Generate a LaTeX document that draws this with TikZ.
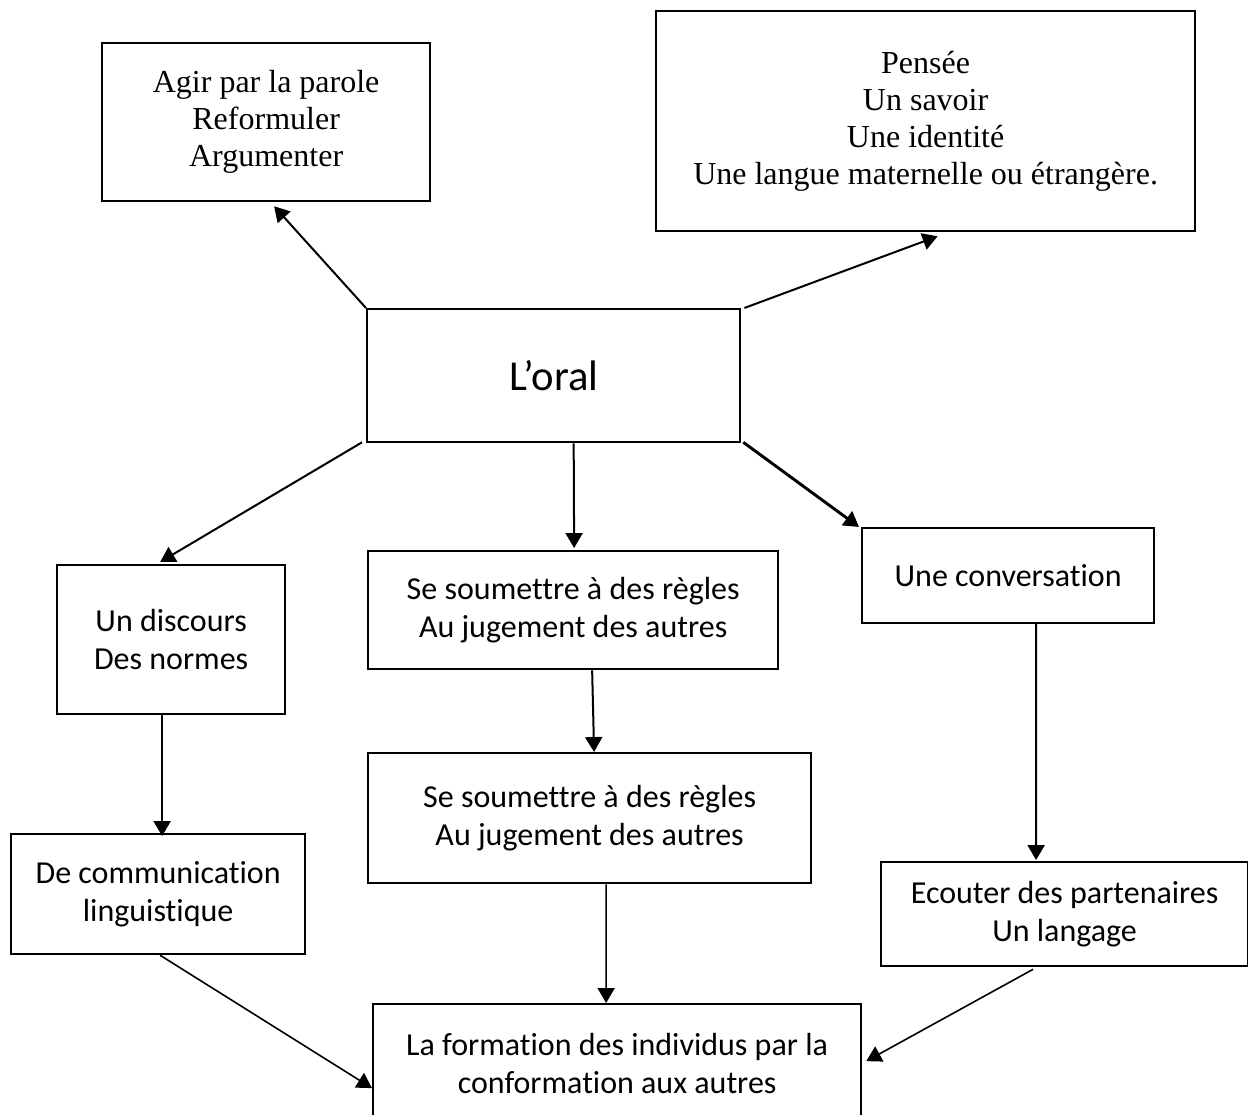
\documentclass[tikz,border=0pt]{standalone}
\usepackage{fontspec}
\setmainfont{Liberation Serif}
\newfontfamily\calfont[Ligatures={NoCommon}]{Carlito}
\usetikzlibrary{arrows.meta}
\begin{document}
\begin{tikzpicture}[x=0.375pt,y=-0.375pt,
  box/.style={draw, line width=0.85pt, align=center, inner sep=0pt, anchor=north west},
  tnr/.style={font=\fontsize{12}{13.9}\selectfont},
  cal/.style={font=\calfont\fontsize{12}{14.3}\selectfont},
  arr/.style={line width=0.75pt, -{Triangle[length=5.6pt,width=6.4pt]}},
]
\useasboundingbox (0,0) rectangle (1248,1115);
\node[box,tnr,minimum width=123pt,minimum height=59.25pt] (agir) at (101,42) {Agir par la parole\\Reformuler\\Argumenter};
\node[box,tnr,minimum width=202.1pt,minimum height=82.5pt] (pensee) at (655,10) {Pensée\\Un savoir\\Une identité\\Une langue maternelle ou étrangère.};
\node[box,font=\calfont\fontsize{16}{19}\selectfont,minimum width=139.9pt,minimum height=49.9pt] (oral) at (366,308) {L’oral};
\node[box,cal,minimum width=85.5pt,minimum height=55.9pt] (discours) at (56,564) {Un discours\\Des normes};
\node[box,cal,minimum width=153.75pt,minimum height=44.25pt] (s1) at (367,550) {Se soumettre à des règles\\Au jugement des autres};
\node[box,cal,minimum width=166.1pt,minimum height=48.75pt] (s2) at (367,752) {Se soumettre à des règles\\Au jugement des autres};
\node[box,cal,minimum width=109.5pt,minimum height=35.6pt] (conv) at (861,527) {Une conversation};
\node[box,cal,minimum width=110.25pt,minimum height=45pt] (decomm) at (10,833) {De communication\\linguistique};
\node[box,cal,minimum width=137.6pt,minimum height=39pt] (ecouter) at (880,861) {Ecouter des partenaires\\Un langage};
\node[box,cal,minimum width=183pt,minimum height=44.25pt] (form) at (372,1003) {La formation des individus par la\\conformation aux autres};

\draw[arr] (oral.north west) -- ([shift={(8,4)}]agir.south);
\draw[arr] ([shift={(3,0)}]oral.north east) -- ([shift={(12,4)}]pensee.south);
\draw[arr] ([shift={(-4,-1)}]oral.south west) -- ([shift={(-11,-2)}]discours.north);
\draw[arr] ([shift={(20,0)}]oral.south) -- ([shift={(1,-2)}]s1.north);
\draw[arr,line width=1.1pt] ([shift={(2,-1)}]oral.south east) -- ([shift={(-2,0)}]conv.north west);
\draw[arr] ([shift={(19,0)}]s1.south) -- ([shift={(4.5,0)}]s2.north);
\draw[arr] ([shift={(-9,0)}]discours.south) -- ([shift={(4,3)}]decomm.north);
\draw[arr] ([shift={(28,0)}]conv.south) -- ([shift={(-28.5,-1)}]ecouter.north);
\draw[arr,line width=0.6pt] ([shift={(2,0)}]decomm.south) -- ([shift={(0,25)}]form.west);
\draw[arr,line width=0.6pt] ([shift={(16.5,0)}]s2.south) -- ([shift={(-11,0)}]form.north);
\draw[arr,line width=0.6pt] ([shift={(-31.5,2)}]ecouter.south) -- ([shift={(4,-2)}]form.east);
\end{tikzpicture}
\end{document}
